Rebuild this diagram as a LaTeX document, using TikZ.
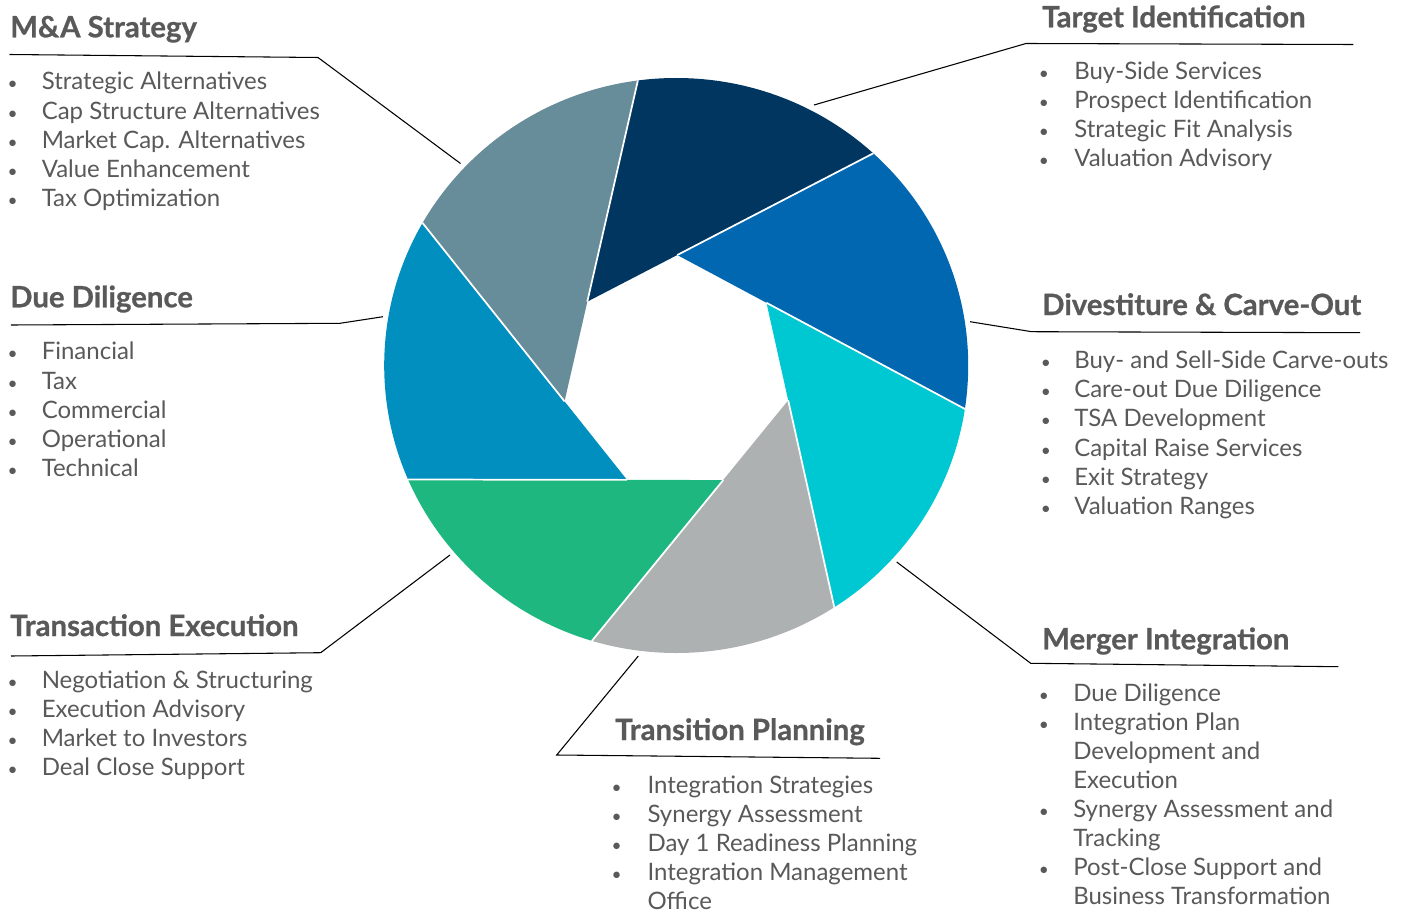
\documentclass[tikz,border=0pt]{standalone}
\usepackage{fontspec}
\setmainfont{Lato}
\newfontfamily\bodyf{Lato}
\newfontfamily\headf{Lato}[BoldFeatures={FakeBold=0.8}]
\usetikzlibrary{calc}
\definecolor{txt}{HTML}{595959}
\definecolor{cslate}{HTML}{678D9A}
\definecolor{cnavy}{HTML}{003660}
\definecolor{cblue}{HTML}{0067B0}
\definecolor{ccyan}{HTML}{00C8D3}
\definecolor{cgray}{HTML}{AEB1B2}
\definecolor{cgreen}{HTML}{1EB780}
\definecolor{cteal}{HTML}{008FBF}
\newcommand\blist[6]{%
  \foreach \b/\t [count=\i] in {#6} {
    \node[itm] (#1\i) at (#3,{#4+#5*(\i-1)}) {\t};
    \ifnum\b=1 \node[bul] (#1b\i) at (#2,{#4+#5*(\i-1)}) {•};\fi
  }}
\begin{document}
\begin{tikzpicture}[x=0.75pt,y=-0.75pt,
  head/.style={anchor=base west, inner sep=0pt, text=txt, font=\headf\fontsize{22}{26}\selectfont\bfseries},
  itm/.style={anchor=base west, inner sep=0pt, text=txt, font=\bodyf\fontsize{18}{22}\selectfont},
  bul/.style={anchor=base, inner sep=0pt, text=txt, font=\fontsize{13}{15}\selectfont},
  conn/.style={draw=black, line width=0.8pt},
  gap/.style={draw=white, line width=1.3pt}]
\useasboundingbox (0,0) rectangle (1406,913);
% outer points of the aperture blades
\coordinate (P1) at (638,80);
\coordinate (P2) at (873,153.5);
\coordinate (P3) at (965,409);
\coordinate (P4) at (834,606);
\coordinate (P5) at (593,639.5);
\coordinate (P6) at (408,479.5);
\coordinate (P7) at (423,223.5);
\coordinate (D1) at (565.5,397);
\coordinate (D2) at (590.5,300);
\coordinate (D3) at (680,256.5);
\coordinate (D4) at (767.3,306.5);
\coordinate (D5) at (786,403);
\coordinate (D6) at (719.5,480);
\coordinate (D7) at (626.7,479.5);
\coordinate (X1) at (intersection of P1--D1 and P7--D7);
\coordinate (X2) at (intersection of P2--D2 and P1--D1);
\coordinate (X3) at (intersection of P3--D3 and P2--D2);
\coordinate (X4) at (intersection of P4--D4 and P3--D3);
\coordinate (X5) at (intersection of P5--D5 and P4--D4);
\coordinate (X6) at (intersection of P6--D6 and P5--D5);
\coordinate (X7) at (intersection of P7--D7 and P6--D6);
\begin{scope}
  \clip (676.2,365.5) ellipse [x radius=292, y radius=287.5];
  \fill[cslate] (X1) -- ($(P1)!-3!(X1)$) -- ($(P7)!-3!(X1)$) -- cycle;
  \fill[cnavy]  (X2) -- ($(P2)!-3!(X2)$) -- ($(P1)!-3!(X2)$) -- cycle;
  \fill[cblue]  (X3) -- ($(P3)!-3!(X3)$) -- ($(P2)!-3!(X3)$) -- cycle;
  \fill[ccyan]  (X4) -- ($(P4)!-3!(X4)$) -- ($(P3)!-3!(X4)$) -- cycle;
  \fill[cgray]  (X5) -- ($(P5)!-3!(X5)$) -- ($(P4)!-3!(X5)$) -- cycle;
  \fill[cgreen] (X6) -- ($(P6)!-3!(X6)$) -- ($(P5)!-3!(X6)$) -- cycle;
  \fill[cteal]  (X7) -- ($(P7)!-3!(X7)$) -- ($(P6)!-3!(X7)$) -- cycle;
  \draw[gap] ($(P1)!-0.1!(X2)$) -- (X2);
  \draw[gap] ($(P2)!-0.1!(X3)$) -- (X3);
  \draw[gap] ($(P3)!-0.1!(X4)$) -- (X4);
  \draw[gap] ($(P4)!-0.1!(X5)$) -- (X5);
  \draw[gap] ($(P5)!-0.1!(X6)$) -- (X6);
  \draw[gap] ($(P6)!-0.1!(X7)$) -- (X7);
  \draw[gap] ($(P7)!-0.1!(X1)$) -- (X1);
\end{scope}
% headings
\node[head] (hMA) at (10,37.3) {M\&A Strategy};
\node[head] (hDD) at (10,307.3) {Due Diligence};
\node[head] (hTE) at (10,636) {Transaction Execution};
\node[head] (hTI) at (1042,27.3) {Target Identification};
\node[head] (hDC) at (1042,315) {Divestiture \& Carve-Out};
\node[head] (hMI) at (1042,649.3) {Merger Integration};
\node[head] (hTP) at (615,740) {Transition Planning};
% connectors
\coordinate (mA) at (9.5,54.5);   \coordinate (mB) at (318,57.5);   \coordinate (mC) at (460.5,163.5);
\coordinate (dA) at (11,325);     \coordinate (dB) at (340,323.3);  \coordinate (dC) at (383,316.7);
\coordinate (eA) at (11,656);     \coordinate (eB) at (320.7,652.7);\coordinate (eC) at (450,555);
\coordinate (tA) at (1353.3,44.5);\coordinate (tB) at (1026,43.5);  \coordinate (tC) at (814,105);
\coordinate (vA) at (1360,332.7); \coordinate (vB) at (1031.7,331.7);\coordinate (vC) at (970,321.7);
\coordinate (gA) at (1338.3,666.7);\coordinate (gB) at (1030.7,663.3);\coordinate (gC) at (896.7,562);
\coordinate (pA) at (880,758.3);  \coordinate (pB) at (556.7,755);  \coordinate (pC) at (638.3,656);
\draw[conn] (mA) -- (mB) -- (mC);
\draw[conn] (dA) -- (dB) -- (dC);
\draw[conn] (eA) -- (eB) -- (eC);
\draw[conn] (tA) -- (tB) -- (tC);
\draw[conn] (vA) -- (vB) -- (vC);
\draw[conn] (gA) -- (gB) -- (gC);
\draw[conn] (pA) -- (pB) -- (pC);
% lists
\blist{MA}{12.7}{41.5}{90}{29.2}{1/Strategic Alternatives,1/Cap Structure Alternatives,1/Market Cap. Alternatives,1/Value Enhancement,1/Tax Optimization}
\blist{DD}{12.7}{41.5}{359.8}{29.2}{1/Financial,1/Tax,1/Commercial,1/Operational,1/Technical}
\blist{TE}{12.7}{41.5}{688.3}{29.0}{1/Negotiation \& Structuring,1/Execution Advisory,1/Market to Investors,1/Deal Close Support}
\blist{TI}{1044}{1074}{80}{29.0}{1/Buy-Side Services,1/Prospect Identification,1/Strategic Fit Analysis,1/Valuation Advisory}
\blist{DC}{1046}{1074}{368.3}{29.3}{1/Buy- and Sell-Side Carve-outs,1/Care-out Due Diligence,1/TSA Development,1/Capital Raise Services,1/Exit Strategy,1/Valuation Ranges}
\blist{MI}{1044}{1073}{701}{29.1}{1/Due Diligence,1/Integration Plan,0/Development and,0/Execution,1/Synergy Assessment and,0/Tracking,1/Post-Close Support and,0/Business Transformation}
\blist{TP}{616.7}{647.3}{793.5}{29.0}{1/Integration Strategies,1/Synergy Assessment,1/Day 1 Readiness Planning,1/Integration Management,0/Office}
\end{tikzpicture}
\end{document}
